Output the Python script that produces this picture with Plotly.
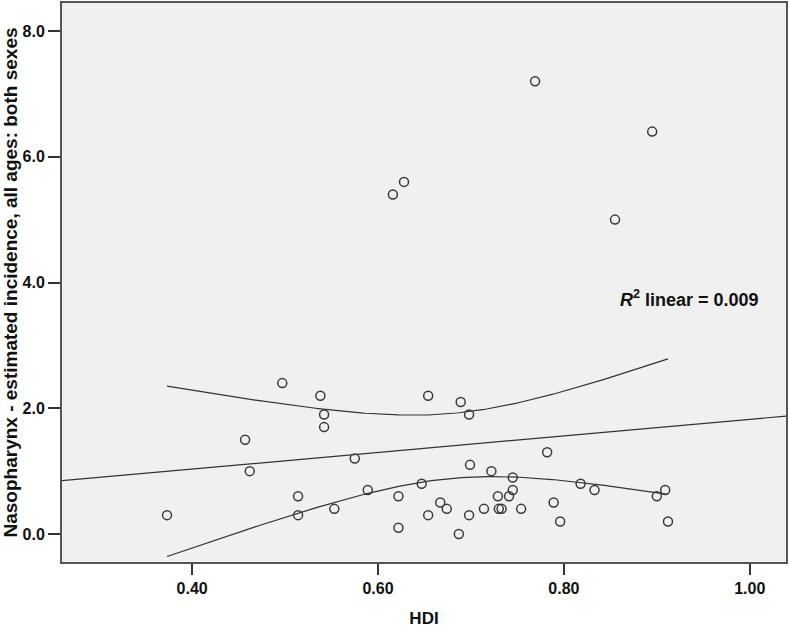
import numpy as np
import plotly.graph_objects as go

# HDI (x) and Nasopharynx estimated incidence, all ages: both sexes (y)
hdi = [0.373, 0.457, 0.462, 0.497, 0.514, 0.514, 0.538, 0.542, 0.542, 0.553,
       0.575, 0.589, 0.616, 0.628, 0.622, 0.622, 0.647, 0.654, 0.654, 0.667,
       0.674, 0.687, 0.689, 0.698, 0.699, 0.698, 0.714, 0.722, 0.729, 0.730,
       0.733, 0.741, 0.745, 0.745, 0.754, 0.769, 0.782, 0.789, 0.796, 0.818,
       0.833, 0.855, 0.895, 0.900, 0.909, 0.912]
incidence = [0.3, 1.5, 1.0, 2.4, 0.6, 0.3, 2.2, 1.9, 1.7, 0.4,
             1.2, 0.7, 5.4, 5.6, 0.6, 0.1, 0.8, 2.2, 0.3, 0.5,
             0.4, 0.0, 2.1, 1.9, 1.1, 0.3, 0.4, 1.0, 0.6, 0.4,
             0.4, 0.6, 0.9, 0.7, 0.4, 7.2, 1.3, 0.5, 0.2, 0.8,
             0.7, 5.0, 6.4, 0.6, 0.7, 0.2]

x_ticks = [0.40, 0.60, 0.80, 1.00]
x_tick_labels = ["0.40", "0.60", "0.80", "1.00"]
y_ticks = [0.0, 2.0, 4.0, 6.0, 8.0]
y_tick_labels = ["0.0", "2.0", "4.0", "6.0", "8.0"]
x_range = [0.260, 1.039]
y_range = [-0.445, 8.445]
r2_label = "<i>R</i><sup>2</sup> linear = 0.009"
t_crit = 2.015  # t(0.975, df = n - 2)

x = np.array(hdi)
y = np.array(incidence)
n = len(x)
slope, intercept = np.polyfit(x, y, 1)
resid = y - (intercept + slope * x)
s = np.sqrt(np.sum(resid ** 2) / (n - 2))
xbar = x.mean()
sxx = np.sum((x - xbar) ** 2)

xf = np.linspace(x_range[0], x_range[1], 100)
yf = intercept + slope * xf
xc = np.linspace(x.min(), x.max(), 200)
yc = intercept + slope * xc
half = t_crit * s * np.sqrt(1.0 / n + (xc - xbar) ** 2 / sxx)

line_col = "#333333"
fig = go.Figure()
fig.add_trace(go.Scatter(x=xf, y=yf, mode="lines",
                         line=dict(color=line_col, width=1.2), hoverinfo="skip"))
fig.add_trace(go.Scatter(x=xc, y=yc + half, mode="lines",
                         line=dict(color=line_col, width=1.2), hoverinfo="skip"))
fig.add_trace(go.Scatter(x=xc, y=yc - half, mode="lines",
                         line=dict(color=line_col, width=1.2), hoverinfo="skip"))
fig.add_trace(go.Scatter(x=hdi, y=incidence, mode="markers",
                         marker=dict(symbol="circle-open", size=9, color="#3a3a3a",
                                     line=dict(width=1.5))))

font_family = "Liberation Sans, Arial, sans-serif"
fig.add_annotation(x=1.012, y=3.75, xref="x", yref="y", text="<b>" + r2_label + "</b>",
                   showarrow=False, xanchor="right", yanchor="middle",
                   font=dict(family=font_family, size=18, color="#111"))

fig.update_layout(
    width=789, height=628,
    margin=dict(l=62, r=3, t=3, b=66, autoexpand=False),
    paper_bgcolor="white", plot_bgcolor="#f0f0f0",
    showlegend=False,
    font=dict(family=font_family, color="#111"),
)
fig.update_xaxes(range=x_range, tickvals=x_ticks, ticktext=["<b>%s</b>" % t for t in x_tick_labels],
                 ticks="outside", ticklen=11, tickwidth=1.5, tickcolor="#333",
                 showgrid=False, zeroline=False, showline=True, linecolor="#555",
                 linewidth=2, mirror=True, tickfont=dict(size=16, family=font_family),
                 automargin=False,
                 title=dict(text="<b>HDI</b>", font=dict(size=17, family=font_family), standoff=19))
fig.update_yaxes(range=y_range, tickvals=y_ticks, ticktext=["<b>%s</b>" % t for t in y_tick_labels],
                 ticks="outside", ticklen=12, tickwidth=1.5, tickcolor="#333",
                 showgrid=False, zeroline=False, showline=True, linecolor="#555",
                 linewidth=2, mirror=True, tickfont=dict(size=16, family=font_family),
                 automargin=False,
                 title=dict(text="<b>Nasopharynx - estimated incidence, all ages: both sexes</b>",
                            font=dict(size=19, family=font_family), standoff=2))

fig.write_html("out.html", config={"displayModeBar": False},
               post_script="document.body.style.margin='0';document.body.style.padding='0';")
